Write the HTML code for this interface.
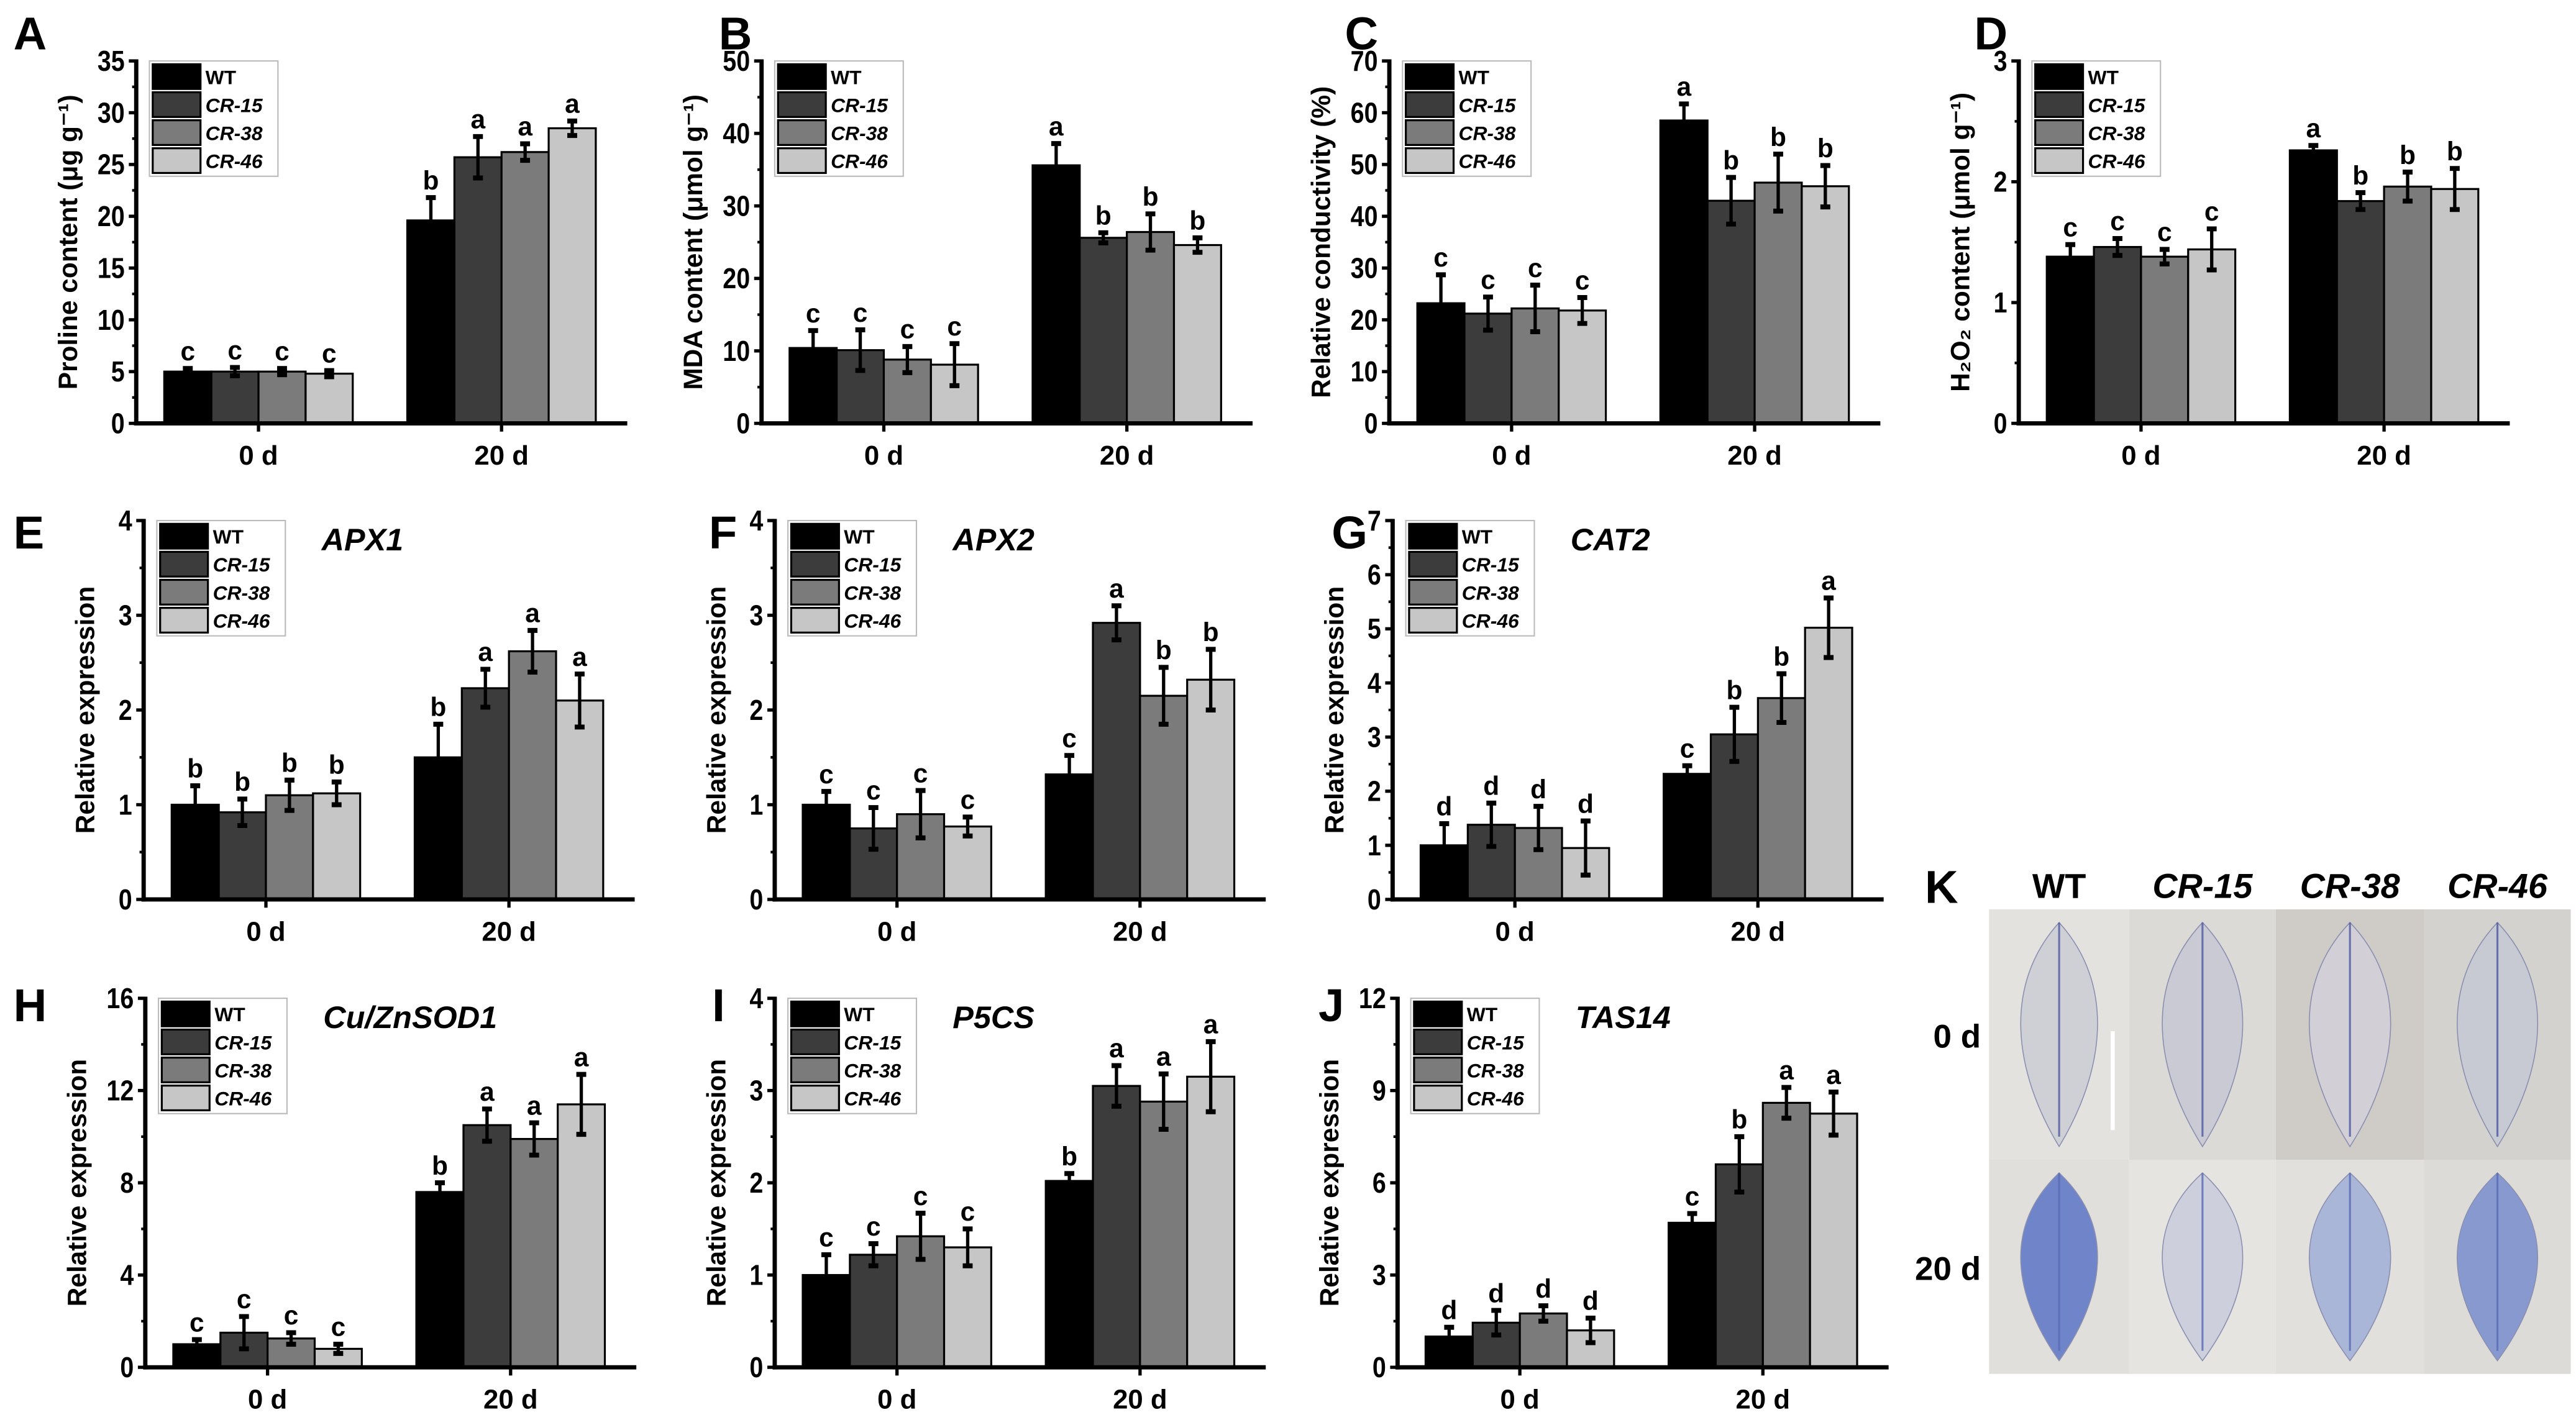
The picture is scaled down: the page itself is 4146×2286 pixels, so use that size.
<!DOCTYPE html>
<html><head><meta charset="utf-8"><style>
html,body{margin:0;padding:0;background:#fff;}
svg{display:block;}
text{font-family:"Liberation Sans",sans-serif;font-weight:bold;}
</style></head><body>
<svg id="fig" width="4146" height="2286" viewBox="0 0 1563 862" xmlns="http://www.w3.org/2000/svg">
<rect width="1563" height="862" fill="#fff"/>
</svg>
<script>
const categories = ["0 d", "20 d"];
const genotypes = ["WT", "CR-15", "CR-38", "CR-46"];
const colors = ["#000000", "#3c3c3c", "#7b7b7b", "#c6c6c6"];
const valsA = [5.0, 5.0, 5.0, 4.8, 19.6, 25.7, 26.2, 28.5];
const errA = [0.3, 0.4, 0.3, 0.3, 2.2, 2.0, 0.8, 0.7];
const letA = ["c","c","c","c","b","a","a","a"];
const valsB = [10.4, 10.1, 8.8, 8.1, 35.6, 25.6, 26.4, 24.6];
const errB = [2.4, 2.8, 1.8, 2.9, 3.0, 0.7, 2.5, 1.0];
const letB = ["c","c","c","c","a","b","b","b"];
const valsC = [23.2, 21.2, 22.2, 21.8, 58.5, 43.0, 46.5, 45.8];
const errC = [5.5, 3.2, 4.5, 2.5, 3.2, 4.5, 5.5, 4.0];
const letC = ["c","c","c","c","a","b","b","b"];
const valsD = [1.38, 1.46, 1.38, 1.44, 2.26, 1.84, 1.96, 1.94];
const errD = [0.1, 0.07, 0.06, 0.17, 0.04, 0.07, 0.12, 0.17];
const letD = ["c","c","c","c","a","b","b","b"];
const valsE = [1.0, 0.92, 1.1, 1.12, 1.5, 2.23, 2.62, 2.1];
const errE = [0.2, 0.14, 0.16, 0.12, 0.35, 0.2, 0.22, 0.28];
const letE = ["b","b","b","b","b","a","a","a"];
const valsF = [1.0, 0.75, 0.9, 0.77, 1.32, 2.92, 2.15, 2.32];
const errF = [0.14, 0.22, 0.25, 0.1, 0.2, 0.18, 0.3, 0.32];
const letF = ["c","c","c","c","c","a","b","b"];
const valsG = [1.0, 1.38, 1.32, 0.95, 2.32, 3.05, 3.72, 5.02];
const errG = [0.4, 0.4, 0.4, 0.5, 0.15, 0.5, 0.45, 0.55];
const letG = ["d","d","d","d","c","b","b","a"];
const valsH = [1.0, 1.5, 1.25, 0.8, 7.6, 10.5, 9.9, 11.4];
const errH = [0.2, 0.7, 0.25, 0.2, 0.4, 0.7, 0.7, 1.3];
const letH = ["c","c","c","c","b","a","a","a"];
const valsI = [1.0, 1.22, 1.42, 1.3, 2.02, 3.05, 2.88, 3.15];
const errI = [0.22, 0.12, 0.25, 0.2, 0.08, 0.22, 0.3, 0.38];
const letI = ["c","c","c","c","b","a","a","a"];
const valsJ = [1.0, 1.45, 1.75, 1.2, 4.7, 6.6, 8.6, 8.25];
const errJ = [0.3, 0.4, 0.25, 0.4, 0.3, 0.9, 0.5, 0.7];
const letJ = ["d","d","d","d","c","b","a","a"];
const ticksA = [0,5,10,15,20,25,30,35];
const ticksB = [0,10,20,30,40,50];
const ticksC = [0,10,20,30,40,50,60,70];
const ticksD = [0,1,2,3];
const ticks4 = [0,1,2,3,4];
const ticksG = [0,1,2,3,4,5,6,7];
const ticksH = [0,4,8,12,16];
const ticksJ = [0,3,6,9,12];

const NS = "http://www.w3.org/2000/svg";
const svg = document.getElementById("fig");
function mk(tag, attrs, parent, txt){
  const e = document.createElementNS(NS, tag);
  for (const k in attrs) e.setAttribute(k, attrs[k]);
  if (txt !== undefined) e.textContent = txt;
  (parent || svg).appendChild(e);
  return e;
}

const panels = [
  {id:"A", x0:82.5, yT:37, yB:257, vals:valsA, err:errA, let:letA, ticks:ticksA, minor:2.5, ylabel:"Proline content (\u03bcg g\u207b\u00b9)", lx:8, ly:30},
  {id:"B", x0:462, yT:37, yB:257, vals:valsB, err:errB, let:letB, ticks:ticksB, minor:5, ylabel:"MDA content (\u03bcmol g\u207b\u00b9)", lx:436, ly:30},
  {id:"C", x0:843, yT:37, yB:257, vals:valsC, err:errC, let:letC, ticks:ticksC, minor:5, ylabel:"Relative conductivity (%)", lx:816, ly:30},
  {id:"D", x0:1225, yT:37, yB:257, vals:valsD, err:errD, let:letD, ticks:ticksD, minor:0.5, ylabel:"H\u2082O\u2082 content (\u03bcmol g\u207b\u00b9)", lx:1198, ly:30},
  {id:"E", x0:87, yT:316, yB:546, vals:valsE, err:errE, let:letE, ticks:ticks4, minor:0.5, ylabel:"Relative expression", gene:"APX1", lx:8, ly:333},
  {id:"F", x0:470, yT:316, yB:546, vals:valsF, err:errF, let:letF, ticks:ticks4, minor:0.5, ylabel:"Relative expression", gene:"APX2", lx:430, ly:333},
  {id:"G", x0:845, yT:316, yB:546, vals:valsG, err:errG, let:letG, ticks:ticksG, minor:0.5, ylabel:"Relative expression", gene:"CAT2", lx:808, ly:333},
  {id:"H", x0:88, yT:606, yB:830, vals:valsH, err:errH, let:letH, ticks:ticksH, minor:2, ylabel:"Relative expression", gene:"Cu/ZnSOD1", lx:8, ly:620},
  {id:"I", x0:470, yT:606, yB:830, vals:valsI, err:errI, let:letI, ticks:ticks4, minor:0.5, ylabel:"Relative expression", gene:"P5CS", lx:432, ly:620},
  {id:"J", x0:848, yT:606, yB:830, vals:valsJ, err:errJ, let:letJ, ticks:ticksJ, minor:1.5, ylabel:"Relative expression", gene:"TAS14", lx:800, ly:620}
];

panels.forEach(p => {
  const g = mk("g", {});
  
  
  const W = 298, maxV = p.ticks[p.ticks.length-1];
  const ys = v => p.yB - (v / maxV) * (p.yB - p.yT);
  const bw = 28.6;
  const groupStart = [p.x0 + 17, p.x0 + 164.5];
  const xs = i => groupStart[Math.floor(i/4)] + (i%4) * bw;

  const pl = mk("text", {x:p.lx, y:p.ly, "font-size":28}, g, p.id);
  
  

  p.vals.forEach((v, i) => {
    const r = mk("rect", {x:xs(i), y:ys(v), width:bw, height:p.yB - ys(v), fill:colors[i%4], stroke:"#000", "stroke-width":1.2}, g);
    
    
    const cx = xs(i) + bw/2, e = p.err[i];
    const eb = mk("g", {stroke:"#000", "stroke-width":2}, g);
    
    
    mk("line", {x1:cx, x2:cx, y1:ys(v-e), y2:ys(v+e)}, eb);
    mk("line", {x1:cx-3, x2:cx+3, y1:ys(v+e), y2:ys(v+e), "stroke-width":3}, eb);
    mk("line", {x1:cx-3, x2:cx+3, y1:ys(v-e), y2:ys(v-e), "stroke-width":3}, eb);
    const lt = mk("text", {x:cx, y:ys(v+e) - 5, "font-size":16, "text-anchor":"middle"}, g, p.let[i]);
    
    
  });

  const ax = mk("g", {stroke:"#000", "stroke-width":2.6}, g);
  
  
  mk("line", {x1:p.x0, x2:p.x0, y1:p.yT - 1, y2:p.yB + 1.3}, ax);
  mk("line", {x1:p.x0 - 1.3, x2:p.x0 + W, y1:p.yB, y2:p.yB}, ax);
  for (let t = 0; t <= maxV + 1e-9; t += p.minor) {
    mk("line", {x1:p.x0 - 2.5, x2:p.x0, y1:ys(t), y2:ys(t), "stroke-width":1.6}, ax);
  }
  p.ticks.forEach(t => {
    mk("line", {x1:p.x0 - 4.5, x2:p.x0, y1:ys(t), y2:ys(t), "stroke-width":2}, ax);
    const tx = p.x0 - 7, ty = ys(t) + 6;
    const tl = mk("text", {x:0, y:0, "font-size":17.5, "text-anchor":"end", transform:`translate(${tx} ${ty}) scale(0.85 1)`}, g, String(t));
    
    
  });
  categories.forEach((c, k) => {
    const cx = groupStart[k] + 2*bw;
    mk("line", {x1:cx, x2:cx, y1:p.yB, y2:p.yB + 5, "stroke-width":2}, ax);
    const xl = mk("text", {x:cx, y:p.yB + 25, "font-size":16.5, "text-anchor":"middle"}, g, c);
    
    
  });

  const ymid = (p.yT + p.yB) / 2, tx = p.x0 - (p.ticks[p.ticks.length-1] >= 10 ? 36 : 30);
  const yt = mk("text", {x:tx, y:ymid, "font-size":16, "text-anchor":"middle", transform:`rotate(-90 ${tx} ${ymid})`}, g, p.ylabel);
  
  

  const lg = mk("g", {}, g);
  
  
  const lx = p.x0 + 8, ly = p.yT;
  mk("rect", {x:lx, y:ly, width:78, height:70, fill:"#fff", stroke:"#bbb", "stroke-width":0.8}, lg);
  genotypes.forEach((gn, k) => {
    const le = mk("g", {}, lg);
    
    
    mk("rect", {x:lx + 2, y:ly + 2 + k*17, width:29, height:15, fill:colors[k], stroke:"#000", "stroke-width":1.2}, le);
    mk("text", {x:lx + 34, y:ly + 14 + k*17, "font-size":12, "font-style": k ? "italic" : "normal"}, le, gn);
  });

  if (p.gene) {
    const gt = mk("text", {x:p.x0 + 108, y:p.yT + 18, "font-size":19, "font-style":"italic"}, g, p.gene);
    
    
  }
});

const kg = mk("g", {});


const kl = mk("text", {x:1168, y:548, "font-size":28}, kg, "K");


const colX = [1207, 1292, 1381, 1471, 1560];
const rowY = [552, 704, 834];
genotypes.forEach((gn, k) => {
  const h = mk("text", {x:(colX[k] + colX[k+1]) / 2, y:545, "font-size":21, "text-anchor":"middle", "font-style": k ? "italic" : "normal"}, kg, gn);
  
  
});
["0 d", "20 d"].forEach((c, r) => {
  const t = mk("text", {x:1202, y:(rowY[r] + rowY[r+1]) / 2 + 8, "font-size":20, "text-anchor":"end"}, kg, c);
  
  
});
const bgs = [["#e3e2df","#dcdad6","#cfccc8","#d4d2ce"],["#e0dfdc","#e6e4e0","#e2e0dc","#dddbd8"]];
const leafFill = [["#cfd0d6","#c9cad4","#d2d0d6","#c7c9d3"],["#6f84c9","#cdd0dc","#a9b6d8","#8799cf"]];
for (let r = 0; r < 2; r++) {
  for (let k = 0; k < 4; k++) {
    const x = colX[k], y = rowY[r], w = colX[k+1] - colX[k], hh = rowY[r+1] - rowY[r];
    const cell = mk("g", {}, kg);
    
    
    mk("rect", {x:x, y:y, width:w, height:hh, fill:bgs[r][k]}, cell);
    const cx = x + w/2, top = y + 8, bot = y + hh - 8, hw = w * 0.27;
    const d = `M${cx},${top} C${cx+hw*1.5},${top+hh*0.25} ${cx+hw*1.2},${bot-hh*0.3} ${cx},${bot} C${cx-hw*1.2},${bot-hh*0.3} ${cx-hw*1.5},${top+hh*0.25} ${cx},${top} Z`;
    mk("path", {d:d, fill:leafFill[r][k], stroke:"#8a8fb0", "stroke-width":0.6}, cell);
    mk("line", {x1:cx, x2:cx, y1:top, y2:bot - 6, stroke: r ? "#5a6cb5" : "#4f5aa0", "stroke-width":1.2, opacity:0.8}, cell);
  }
}
const sb = mk("line", {x1:1282, x2:1282, y1:626, y2:686, stroke:"#fff", "stroke-width":2.5}, kg);


</script>
</body></html>
